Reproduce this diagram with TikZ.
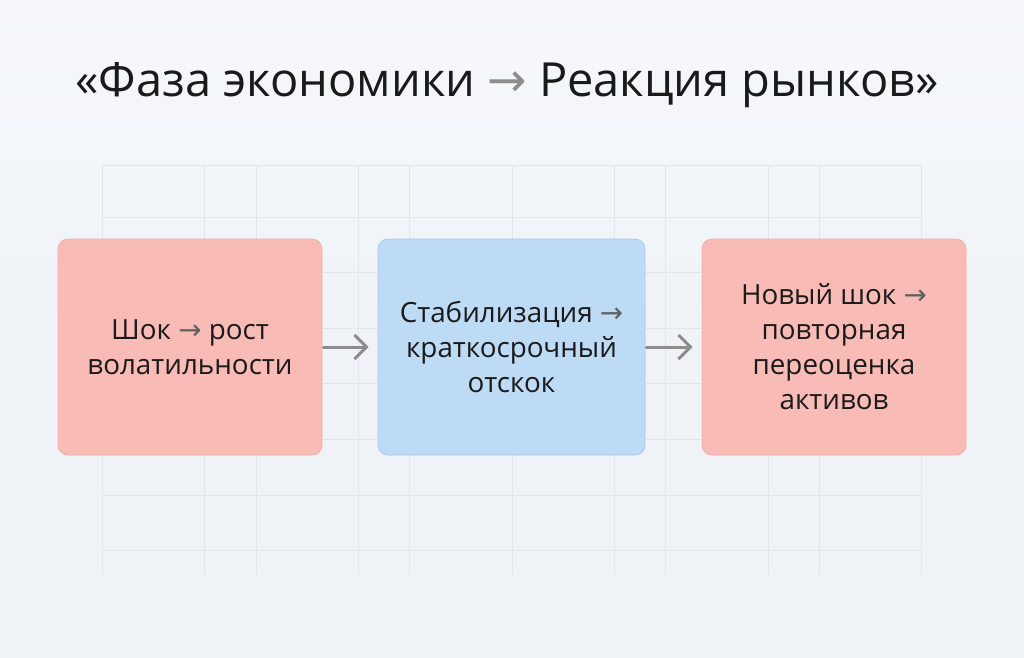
\documentclass[tikz,border=0pt]{standalone}
\usepackage{fontspec}
\setmainfont{Open Sans}
\newfontfamily\arrowfont{DejaVu Sans}
\usetikzlibrary{arrows.meta}
\definecolor{bgcol}{HTML}{EFF3F8}
\definecolor{bgtop}{HTML}{F6F8FB}
\definecolor{gridcol}{HTML}{E1E6EC}
\definecolor{pinkfill}{HTML}{F9BBB6}
\definecolor{pinkline}{HTML}{F1AEA9}
\definecolor{bluefill}{HTML}{BEDBF6}
\definecolor{blueline}{HTML}{A9CAEC}
\definecolor{txtcol}{HTML}{1A1A1A}
\definecolor{arrcol}{HTML}{8C8C8C}
\definecolor{tarrcol}{HTML}{606060}
\newcommand{\tarr}{{\arrowfont\color{tarrcol}→}}
\begin{document}
\begin{tikzpicture}[x=1pt,y=-1pt,
  stagebox/.style={rectangle, rounded corners=10pt, line width=0.8pt,
    minimum width=264pt, minimum height=216pt, inner sep=0pt,
    align=center, text=txtcol,
    font=\fontsize{27.8}{35}\selectfont},
  shockbox/.style={stagebox, fill=pinkfill, draw=pinkline},
  calmbox/.style={stagebox, fill=bluefill, draw=blueline},
  flow/.style={draw=arrcol, line width=3pt, line cap=round,
    -{Straight Barb[length=12pt,width=24pt,line width=3pt]},
    shorten <=1pt, shorten >=9pt},
  gridline/.style={draw=gridcol, line width=0.8pt}]
\useasboundingbox (0,0) rectangle (1024,657);
\shade[top color=bgtop, bottom color=bgcol, middle color=bgcol] (0,0) rectangle (1024,657);
% grid
\foreach \gx in {102.4,204.8,256,358.4,409.6,512,614.4,665.6,768,819.2,921.6}
  \draw[gridline] (\gx,165) -- (\gx,575);
\foreach \gy in {165,217,272,328,383,439,495,550}
  \draw[gridline] (102.4,\gy) -- (921.6,\gy);
% title
\node[font=\fontsize{47}{56}\selectfont, text=txtcol] (title) at (507,85)
  {«Фаза экономики {\arrowfont\color{arrcol}→} Реакция рынков»};
% boxes
\node[shockbox] (b1) at (190,347) {Шок \tarr{} рост\\волатильности};
\node[calmbox, minimum width=267pt] (b2) at (511.5,347) {Стабилизация \tarr\\краткосрочный\\отскок};
\node[shockbox] (b3) at (834,347) {Новый шок \tarr\\повторная\\переоценка\\активов};
% connectors
\draw[flow] (b1.east) -- (b2.west);
\draw[flow] (b2.east) -- (b3.west);
\end{tikzpicture}
\end{document}
